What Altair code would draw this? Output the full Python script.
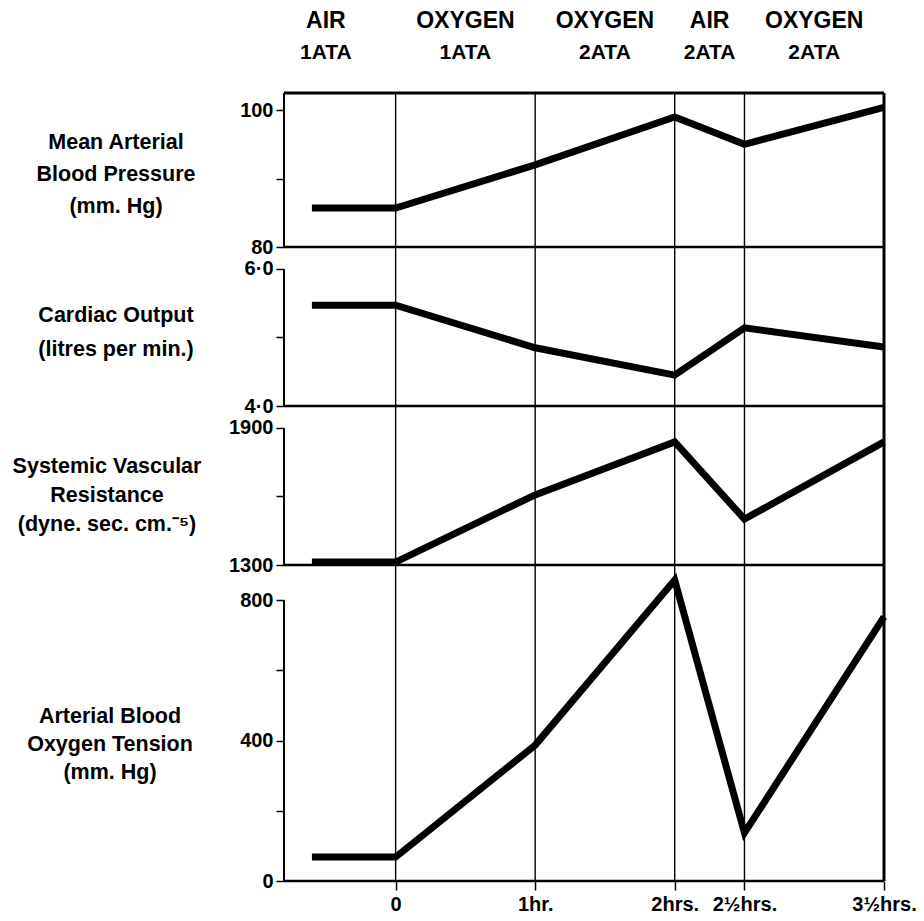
import altair as alt
import pandas as pd

# ---------------- data ----------------
hours = [-0.6, 0, 1, 2, 2.5, 3.5]
mabp = [85.7, 85.7, 92.0, 99.0, 95.0, 100.4]          # mm Hg
cardiac_output = [5.47, 5.47, 4.85, 4.45, 5.14, 4.86]  # litres / min
svr = [1313, 1313, 1607, 1839, 1501, 1839]            # dyne sec cm-5
po2 = [68, 68, 387, 857, 137, 752]                    # mm Hg

grid_hours = [0, 1, 2, 2.5, 3.5]
x_tick_labels = ["0", "1hr.", "2hrs.", "2½hrs.", "3½hrs."]

header_x = [-0.5, 0.5, 1.5, 2.25, 3.0]
header_gas = ["AIR", "OXYGEN", "OXYGEN", "AIR", "OXYGEN"]
header_pressure = ["1ATA", "1ATA", "2ATA", "2ATA", "2ATA"]

# ---------------- styling ----------------
FONT = "Liberation Sans, Arial, sans-serif"
W = 600
X_DOMAIN = [-0.8, 3.5]
xscale = alt.Scale(domain=X_DOMAIN, nice=False, zero=False)


def label_expr(values, labels):
    expr = "''"
    for v, l in reversed(list(zip(values, labels))):
        expr = f"datum.value == {v} ? '{l}' : ({expr})"
    return expr


def panel(values, ydomain, height, ticks, tick_labels, axis_lo, axis_hi,
          title, title_x, title_y, line_h, first=False, last=False):
    yscale = alt.Scale(domain=ydomain, nice=False, zero=False)
    df = pd.DataFrame({"h": hours, "v": values})
    gdf = pd.DataFrame({"h": grid_hours})

    if last:
        xaxis = alt.Axis(values=grid_hours, labelExpr=label_expr(grid_hours, x_tick_labels),
                         domain=False, grid=False, ticks=True, tickSize=9, tickWidth=1.5,
                         tickColor="black", labelFont=FONT, labelFontSize=20,
                         labelFontWeight="bold", labelColor="black", labelPadding=4,
                         title=None, labelOverlap=False, labelFlush=False)
    else:
        xaxis = None

    yaxis = alt.Axis(values=ticks, labelExpr=label_expr(ticks, tick_labels), domain=False,
                     grid=False, tickSize=8, tickWidth=1.5, tickColor="black",
                     labelFont=FONT, labelFontSize=20, labelFontWeight="bold",
                     labelColor="black", labelPadding=3, title=None, labelOverlap=False,
                     labelFlush=False)

    def X(f):
        return alt.X(f, scale=xscale, axis=xaxis)

    def Y(f):
        return alt.Y(f, scale=yscale, axis=yaxis)

    layers = []
    # vertical time lines
    layers.append(alt.Chart(gdf).mark_rule(color="black", strokeWidth=1.4).encode(x=X("h:Q")))
    # right frame line
    layers.append(alt.Chart(pd.DataFrame({"h": [3.5]})).mark_rule(color="black", strokeWidth=3).encode(
        x=X("h:Q")))
    # bottom line of the panel
    layers.append(alt.Chart(pd.DataFrame({"v": [ydomain[0]]})).mark_rule(color="black", strokeWidth=2.5).encode(
        y=Y("v:Q")))
    # left axis line
    layers.append(alt.Chart(pd.DataFrame({"v": [axis_lo], "hi": [axis_hi]})).mark_rule(
        color="black", strokeWidth=2).encode(x=alt.value(0), y=Y("v:Q"), y2="hi:Q"))
    # the data line
    layers.append(alt.Chart(df).mark_line(color="black", strokeWidth=7, strokeJoin="miter").encode(
        x=X("h:Q"), y=Y("v:Q")))
    # side title
    layers.append(alt.Chart(pd.DataFrame({"t": [title]})).mark_text(
        font=FONT, fontSize=21.5, fontWeight="bold", color="black", align="center",
        baseline="middle", lineBreak="\n", lineHeight=line_h).encode(
        x=alt.value(title_x), y=alt.value(title_y), text="t:N"))

    if first:
        # top frame line
        layers.append(alt.Chart(pd.DataFrame({"v": [ydomain[1]]})).mark_rule(color="black", strokeWidth=3).encode(
            y=Y("v:Q")))
        hdf = pd.DataFrame({"h": header_x, "gas": header_gas, "p": header_pressure})
        layers.append(alt.Chart(hdf).mark_text(
            font=FONT, fontSize=23, fontWeight="bold", color="black", baseline="middle").encode(
            x=X("h:Q"), y=alt.value(-72), text="gas:N"))
        layers.append(alt.Chart(hdf).mark_text(
            font=FONT, fontSize=21, fontWeight="bold", color="black", baseline="middle").encode(
            x=X("h:Q"), y=alt.value(-40), text="p:N"))
        # invisible anchor fixing the page offset of the plot area
        layers.append(alt.Chart(pd.DataFrame({"a": [0]})).mark_rule(opacity=0, strokeWidth=0).encode(
            x=alt.value(-284), x2=alt.value(-284), y=alt.value(-93), y2=alt.value(-93)))

    return alt.layer(*layers).properties(width=W, height=height)


p1 = panel(mabp, [80, 102.5], 154, [80, 90, 100], ["80", "", "100"], 80, 102.5,
           "Mean Arterial\nBlood Pressure\n(mm. Hg)", -168, 50, 32, first=True)
p2 = panel(cardiac_output, [4.0, 6.32], 159, [4, 5, 6], ["4·0", "", "6·0"], 4, 6,
           "Cardiac Output\n(litres per min.)", -168, 69, 34)
p3 = panel(svr, [1300, 1996], 159, [1300, 1600, 1900], ["1300", "", "1900"], 1300, 1900,
           "Systemic Vascular\nResistance\n(dyne. sec. cm.⁻⁵)", -177, 61, 29)
p4 = panel(po2, [0, 900], 316, [0, 200, 400, 600, 800], ["0", "", "400", "", "800"], 0, 800,
           "Arterial Blood\nOxygen Tension\n(mm. Hg)", -174, 152, 28, last=True)

chart = alt.vconcat(p1, p2, p3, p4, spacing=0, bounds="flush").properties(
    padding=0, background="white"
).configure_view(stroke=None)

chart.save("out.html", embed_options={"renderer": "svg", "actions": False})
